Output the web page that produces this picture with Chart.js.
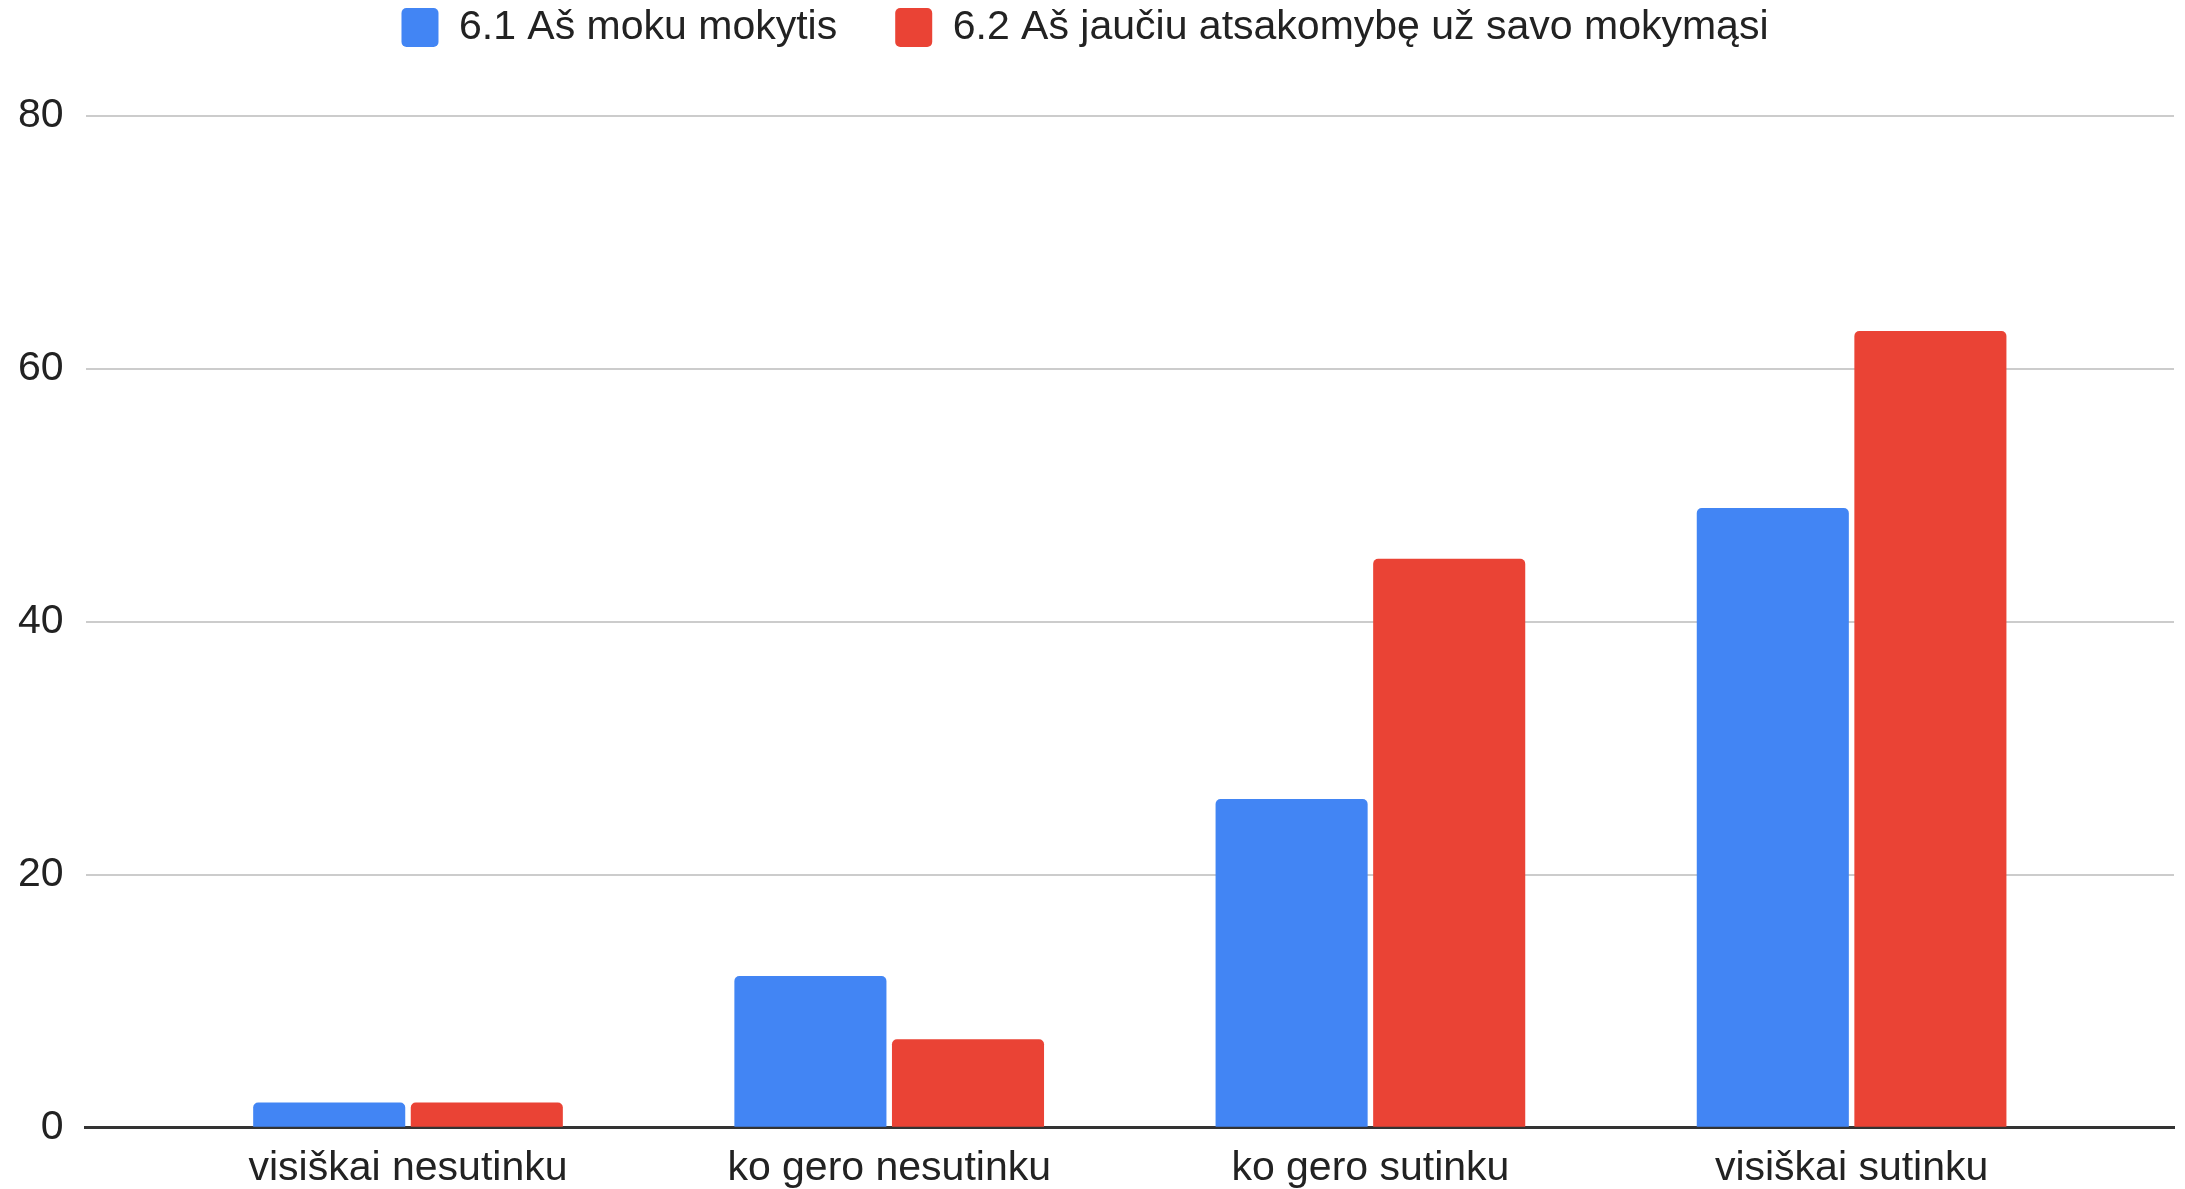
<!DOCTYPE html>
<html>
<head>
<meta charset="utf-8">
<script src="https://cdn.jsdelivr.net/npm/chart.js@4.4.0/dist/chart.umd.min.js"></script>
<style>
  html, body { margin: 0; padding: 0; background: #fff; }
  #wrap { width: 2185px; height: 1189px; }
</style>
</head>
<body>
<div id="wrap"><canvas id="chart"></canvas></div>
<script>
// categories and answers
const categories = ['visiškai nesutinku', 'ko gero nesutinku', 'ko gero sutinku', 'visiškai sutinku'];
const canLearn = [2, 12, 26, 49];        // 6.1 Aš moku mokytis
const responsibility = [2, 7, 45, 63];   // 6.2 Aš jaučiu atsakomybę už savo mokymąsi
const yTicks = [0, 20, 40, 60, 80];

const font = '"Liberation Sans", Arial, sans-serif';

// x positions are just the category index, the axis is padded like the sheets chart
const toPoints = arr => arr.map((v, i) => ({ x: i, y: v }));

// extra room under the legend
const legendSpace = {
    id: 'legendSpace',
    beforeInit(chart) {
        const fitOrig = chart.legend.fit;
        chart.legend.fit = function () {
            fitOrig.bind(chart.legend)();
            this.height = 167;
        };
    }
};

const ctx = document.getElementById('chart').getContext('2d');
const chart = new Chart(ctx, {
    type: 'bar',
    data: {
        datasets: [{
            label: '6.1 Aš moku mokytis',
            data: toPoints(canLearn),
            backgroundColor: '#4285F4',
            borderRadius: { topLeft: 5, topRight: 5 },
            borderSkipped: 'bottom'
        }, {
            label: '6.2 Aš jaučiu atsakomybę už savo mokymąsi',
            data: toPoints(responsibility),
            backgroundColor: '#EA4335',
            borderRadius: { topLeft: 5, topRight: 5 },
            borderSkipped: 'bottom'
        }]
    },
    plugins: [legendSpace],
    options: {
        responsive: true,
        maintainAspectRatio: false,
        animation: false,
        layout: { padding: { left: -4, right: 11, top: -51, bottom: -20 } },
        categoryPercentage: 0.655,
        barPercentage: 0.965,
        plugins: {
            legend: {
                position: 'top',
                labels: {
                    font: { family: font, size: 41 },
                    color: '#222',
                    boxWidth: 37,
                    boxHeight: 39,
                    useBorderRadius: true,
                    borderRadius: 5,
                    padding: 58
                }
            },
            tooltip: { enabled: false }
        },
        scales: {
            x: {
                type: 'linear',
                offset: false,
                min: -0.67,
                max: 3.67,
                afterBuildTicks: axis => { axis.ticks = categories.map((c, i) => ({ value: i })); },
                grid: { display: false, drawTicks: false },
                border: { color: '#333', width: 3 },
                ticks: {
                    font: { family: font, size: 41 },
                    color: '#222',
                    padding: 16,
                    maxRotation: 0,
                    autoSkip: false,
                    callback: v => categories[v]
                }
            },
            y: {
                min: 0,
                max: 80,
                afterBuildTicks: axis => { axis.ticks = yTicks.map(v => ({ value: v })); },
                grid: { color: '#cccccc', lineWidth: 2, drawTicks: false },
                border: { display: false },
                ticks: {
                    font: { family: font, size: 41 },
                    color: '#222',
                    padding: 22
                }
            }
        }
    }
});
</script>
</body>
</html>
